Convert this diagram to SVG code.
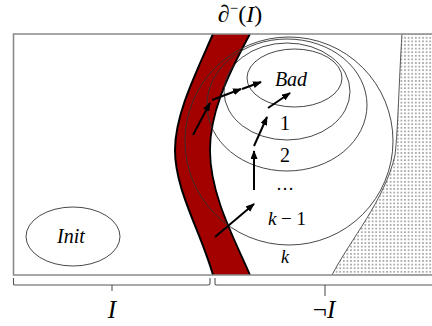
<svg xmlns="http://www.w3.org/2000/svg" width="432" height="326" viewBox="0 0 432 326">
<style>
.lvl{fill:none;stroke:#333;stroke-width:0.9}
.math{font-family:"Liberation Serif","DejaVu Serif",serif;fill:#000}
.it{font-style:italic}
.arr{stroke:#000;stroke-width:2;fill:none;marker-end:url(#ah)}
.frame{fill:none;stroke:#8a8a8a;stroke-width:1.6}
.brace{fill:none;stroke:#555;stroke-width:1.1}
</style>
<defs>
<marker id="ah" markerUnits="userSpaceOnUse" markerWidth="9" markerHeight="7" refX="8" refY="3.5" orient="auto">
<path d="M0,0 L9,3.5 L0,7 z" fill="#000"/>
</marker>
<pattern id="dots" width="3.6" height="3.6" patternUnits="userSpaceOnUse">
<circle cx="1.8" cy="1.8" r="0.75" fill="#444"/>
</pattern>
</defs>
<rect width="432" height="326" fill="#fff"/>

<g id="notI-dotted">
<path d="M402,34 C399,80 398,130 395,155 C385,200 350,240 332,275 L432,275 L432,34 Z" fill="url(#dots)"/>
<path d="M402,34 C399,80 398,130 395,155 C385,200 350,240 332,275" fill="none" stroke="#444" stroke-width="0.9"/>
</g>

<g id="boundary-band">
<path d="M213,34 C195,75 175,115 175,150 C175,190 200,230 213,275 L250,275 C235,240 210,195 210,150 C210,115 225,80 250,34 Z" fill="#a30000"/>
<path d="M213,34 C195,75 175,115 175,150 C175,190 200,230 213,275" fill="none" stroke="#000" stroke-width="2"/>
<path d="M250,34 C225,80 210,115 210,150 C210,195 235,240 250,275" fill="none" stroke="#000" stroke-width="1.8"/>
</g>

<g id="level-k">
<text class="math it" x="285" y="263" font-size="18" text-anchor="middle">k</text>
</g>
<g id="level-k-1">
<ellipse class="lvl" cx="289" cy="141" rx="104" ry="104"/>
<text class="math" x="287" y="225" font-size="19" text-anchor="middle"><tspan font-style="italic">k</tspan> − 1</text>
</g>
<g id="level-dots">
<text class="math" x="285" y="190" font-size="18" text-anchor="middle">…</text>
</g>
<g id="level-2">
<ellipse class="lvl" cx="287" cy="105" rx="80" ry="66"/>
<text class="math" x="285" y="162" font-size="20" text-anchor="middle">2</text>
</g>
<g id="level-1">
<ellipse class="lvl" cx="287" cy="91.5" rx="63" ry="48.5"/>
<text class="math" x="285" y="130" font-size="20" text-anchor="middle">1</text>
</g>
<g id="bad">
<ellipse class="lvl" cx="294.5" cy="78" rx="47.5" ry="29"/>
<text class="math it" x="291" y="86" font-size="20" text-anchor="middle">Bad</text>
</g>

<g id="init">
<ellipse class="lvl" cx="73" cy="236.5" rx="47" ry="29.5"/>
<text class="math it" x="71" y="243" font-size="20" text-anchor="middle">Init</text>
</g>

<g id="frame">
<path class="frame" d="M433,34 H13.5 V275 H433"/>
</g>

<g id="connectors">
<line class="arr" x1="193" y1="135" x2="210" y2="103"/>
<line class="arr" x1="212" y1="100" x2="241" y2="89"/>
<line class="arr" x1="242" y1="89" x2="261" y2="82"/>
<line class="arr" x1="268" y1="108" x2="290" y2="93"/>
<line class="arr" x1="254" y1="146" x2="267" y2="117"/>
<line class="arr" x1="254" y1="190" x2="254" y2="151"/>
<line class="arr" x1="215" y1="237" x2="254" y2="204"/>
</g>

<g id="brace-I">
<path class="brace" d="M13.5,278 V284 Q13.5,285 15,285 H208 Q210,285 210,283.5 V278 M112,285 V291"/>
<text class="math it" x="112" y="318" font-size="25" text-anchor="middle">I</text>
</g>
<g id="brace-notI">
<path class="brace" d="M215,278 V284 Q215,285 217,285 H432 M325,285 V296"/>
<text class="math" x="324" y="318" font-size="25" text-anchor="middle">¬<tspan font-style="italic">I</tspan></text>
</g>

<g id="title">
<text class="math" x="240" y="22" font-size="24" text-anchor="middle"><tspan font-style="italic">∂</tspan><tspan font-size="15" dy="-9">−</tspan><tspan dy="9">(</tspan><tspan font-style="italic">I</tspan>)</text>
</g>
</svg>
